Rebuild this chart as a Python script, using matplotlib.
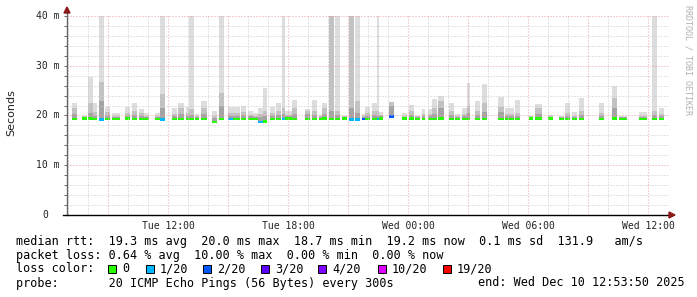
import numpy as np
import matplotlib
matplotlib.use('Agg')
import matplotlib.pyplot as plt
from matplotlib.patches import Rectangle, Polygon

# smoke blocks: start (hours since Tue 00:00), length (min), median / smoke levels (ms), loss index
seg_start = [7.20, 7.70, 8.00, 8.25, 8.55, 8.85, 9.20, 9.85, 10.20, 10.55, 10.80, 11.35, 11.60,
             12.20, 12.50, 12.90, 13.05, 13.35, 13.65, 14.20, 14.55, 15.00, 15.25, 15.65, 16.00,
             16.25, 16.50, 16.75, 17.10, 17.40, 17.70, 17.85, 18.20, 18.85, 19.20, 19.55, 19.70,
             20.05, 20.35, 20.70, 21.05, 21.35, 21.70, 21.85, 22.20, 22.45, 22.55, 23.05, 23.70,
             24.05, 24.35, 24.70, 25.00, 25.20, 25.50, 26.05, 26.35, 26.70, 26.95, 27.35, 27.70,
             28.50, 28.85, 29.35, 30.05, 30.35, 31.00, 31.55, 31.85, 32.20, 32.55, 33.55, 34.20,
             34.55, 35.55, 36.20, 36.55]
seg_len = [15, 15, 15, 12, 15, 15, 24, 15, 15, 15, 15, 15, 15,
           15, 18, 9, 15, 12, 18, 15, 15, 15, 21, 15, 15,
           15, 15, 12, 15, 15, 9, 21, 15, 15, 15, 9, 15,
           15, 15, 15, 15, 15, 9, 15, 15, 6, 12, 15, 15,
           15, 15, 9, 12, 15, 18, 15, 15, 15, 9, 15, 15,
           18, 27, 15, 12, 21, 15, 15, 15, 15, 15, 15, 15,
           24, 24, 15, 15]
seg_med = [19.3, 19.4, 19.4, 19.3, 19.2, 19.3, 19.3, 19.4, 19.3, 19.3, 19.3, 19.3, 19.2,
           19.3, 19.3, 19.3, 19.3, 19.3, 19.3, 18.7, 19.3, 19.3, 19.3, 19.3, 19.3,
           19.3, 18.7, 18.8, 19.3, 19.3, 19.3, 19.4, 19.3, 19.3, 19.3, 19.3, 19.4,
           19.3, 19.3, 19.4, 19.2, 19.2, 19.3, 19.3, 19.3, 19.3, 19.4, 19.8, 19.4,
           19.4, 19.3, 19.3, 19.3, 19.3, 19.4, 19.3, 19.3, 19.3, 19.3, 19.3, 19.3,
           19.3, 19.3, 19.3, 19.4, 19.4, 19.4, 19.3, 19.3, 19.3, 19.3, 19.3, 19.4,
           19.3, 19.3, 19.3, 19.3]
seg_max = [22.6, 19.9, 27.7, 22.6, 40.0, 21.8, 20.6, 21.8, 22.6, 21.3, 20.6, 20.5, 40.0,
           21.5, 22.6, 21.7, 40.0, 20.4, 22.9, 21.0, 40.0, 21.8, 21.8, 21.9, 20.9,
           20.5, 21.5, 25.6, 21.7, 22.5, 40.0, 20.9, 23.1, 21.3, 23.1, 20.1, 22.5,
           40.0, 40.0, 19.8, 40.0, 40.0, 20.3, 21.8, 22.5, 40.0, 20.7, 22.7, 20.5,
           22.2, 20.0, 21.3, 21.3, 23.3, 24.0, 22.5, 20.3, 21.5, 26.5, 23.0, 26.3,
           23.8, 21.6, 23.2, 20.0, 22.3, 20.2, 19.8, 22.6, 20.7, 23.5, 22.5, 26.0,
           19.8, 20.7, 40.0, 21.6]
seg_hi = [21.5, 19.9, 22.5, 20.8, 26.8, 20.8, 20.0, 20.5, 21.0, 20.5, 20.0, 19.9, 24.3,
          20.4, 21.5, 20.5, 21.3, 19.9, 21.5, 20.0, 24.5, 20.5, 20.6, 20.8, 20.2,
          19.9, 20.3, 21.0, 20.6, 21.0, 21.5, 20.2, 21.5, 21.0, 21.0, 19.9, 21.6,
          40.0, 21.0, 19.8, 40.0, 23.0, 20.0, 20.5, 21.0, 21.0, 20.2, 22.7, 20.0,
          21.0, 19.8, 20.4, 20.4, 21.5, 23.0, 21.0, 19.9, 20.4, 22.0, 21.0, 22.5,
          21.7, 20.4, 20.5, 19.8, 21.6, 19.9, 19.7, 20.5, 20.0, 21.0, 20.5, 23.5,
          19.7, 20.0, 21.0, 20.4]
seg_dark = [20.3, 19.7, 20.5, 20.0, 23.0, 20.0, 19.7, 20.0, 20.2, 19.9, 19.7, 19.7, 21.5,
            19.9, 20.3, 20.0, 20.2, 19.7, 20.3, 19.4, 22.0, 20.0, 20.0, 20.1, 19.8,
            19.7, 19.6, 19.8, 20.0, 20.2, 20.3, 19.8, 20.3, 20.3, 20.2, 19.7, 20.4,
            21.0, 20.2, 19.6, 21.5, 20.5, 19.7, 20.0, 20.2, 20.0, 19.8, 22.0, 19.7,
            20.2, 19.6, 19.9, 19.9, 20.3, 21.5, 20.2, 19.7, 19.9, 20.5, 20.2, 20.8,
            20.8, 19.9, 20.0, 19.6, 20.3, 19.7, 19.6, 20.0, 19.7, 20.2, 20.0, 21.5,
            19.6, 19.7, 20.2, 19.9]
seg_loss = [0, 0, 0, 0, 1, 0, 0, 0, 0, 0, 0, 0, 1,
            0, 0, 0, 0, 0, 0, 0, 0, 1, 0, 0, 0,
            0, 1, 0, 0, 0, 1, 0, 0, 0, 0, 0, 0,
            0, 0, 0, 1, 1, 2, 0, 0, 1, 0, 2, 0,
            0, 0, 0, 0, 0, 0, 0, 0, 0, 0, 0, 0,
            0, 0, 0, 0, 0, 0, 0, 0, 0, 0, 0, 0,
            0, 0, 0, 0]

loss_labels = ['0', '1/20', '2/20', '3/20', '4/20', '10/20', '19/20']
loss_colors = ['#26ff00', '#00b8ff', '#0059ff', '#5e00ff', '#7e00ff', '#dd00ff', '#ff0000']

y_ticks = [0, 10, 20, 30, 40]
y_labels = ['0', '10 m', '20 m', '30 m', '40 m']
x_ticks = [12, 18, 24, 30, 36]
x_labels = ['Tue 12:00', 'Tue 18:00', 'Wed 00:00', 'Wed 06:00', 'Wed 12:00']

rows = ['median rtt:  19.3 ms avg  20.0 ms max  18.7 ms min  19.2 ms now  0.1 ms sd  131.9   am/s',
        'packet loss: 0.64 % avg  10.00 % max  0.00 % min  0.00 % now']
probe = 'probe:       20 ICMP Echo Pings (56 Bytes) every 300s'
end_txt = 'end: Wed Dec 10 12:53:50 2025'

W, H = 697, 297
MONO = 'DejaVu Sans Mono'

def fx(px):
    return px / W

def fy(py):
    return 1 - py / H

fig = plt.figure(figsize=(W / 100, H / 100), dpi=100)
fig.patch.set_facecolor('white')
ax = fig.add_axes([fx(67), fy(215), 601 / W, 199 / H])
ax.set_xlim(6.95, 37.0)
ax.set_ylim(0, 40)
for s in ax.spines.values():
    s.set_visible(False)

start = np.array(seg_start)
width = np.array(seg_len) / 60
med = np.array(seg_med)
bottom = med - 0.3
ax.bar(start, np.array(seg_max) - bottom, width, bottom, align='edge',
       color='#dddddd', linewidth=0, antialiased=False, zorder=2)
ax.bar(start, np.array(seg_hi) - bottom, width, bottom, align='edge',
       color='#c2c2c2', linewidth=0, antialiased=False, zorder=2)
ax.bar(start, np.array(seg_dark) - bottom, width, bottom, align='edge',
       color='#a4a4a4', linewidth=0, antialiased=False, zorder=2)
ax.bar(start, 0.55, width, med - 0.27, align='edge',
       color=[loss_colors[i] for i in seg_loss], linewidth=0, antialiased=False, zorder=3)

# grid (rrdtool draws it over the graph)
dots = (0, (1, 2))
for h in range(7, 37):
    major = h % 3 == 0
    ax.axvline(h, color='#eba0a0' if major else '#c8c8c8', lw=0.72, ls=dots, zorder=4)
for v in range(2, 41, 2):
    major = v % 10 == 0
    ax.axhline(v, color='#eba0a0' if major else '#c8c8c8', lw=0.72, ls=dots, zorder=4,
               clip_on=False)

# axes lines and arrows
ax.plot([0, 0], [0, 1 + 5 / 199], transform=ax.transAxes, color='#666666', lw=1,
        clip_on=False, zorder=5)
ax.plot([-4 / 601, 1 + 2 / 601], [0, 0], transform=ax.transAxes, color='black', lw=1,
        clip_on=False, zorder=5)
ax.add_patch(Polygon([[-3 / 601, 1 + 3 / 199], [3 / 601, 1 + 3 / 199], [0, 1 + 9 / 199]],
                     closed=True, transform=ax.transAxes, color='#8b1a1a', clip_on=False, zorder=6))
ax.add_patch(Polygon([[1 + 1 / 601, -3 / 199], [1 + 1 / 601, 3 / 199], [1 + 7 / 601, 0]],
                     closed=True, transform=ax.transAxes, color='#8b1a1a', clip_on=False, zorder=6))

ax.set_yticks(range(0, 41, 2))
ax.set_yticklabels([])
ax.tick_params(axis='y', length=2, width=0.7, color='#666666', direction='out')
ax.set_xticks(x_ticks)
ax.set_xticklabels(x_labels, fontfamily=MONO, fontsize=7, color='#222222')
ax.tick_params(axis='x', length=0, pad=4)

cw = 7 * 100 / 72 * 0.602
for v, lab in zip(y_ticks, y_labels):
    left = 36.5 + cw if lab == '0' else 36.5
    fig.text(fx(left), fy(215 - v * 199 / 40), lab, fontfamily=MONO, fontsize=7,
             color='#222222', ha='left', va='center')

fig.text(fx(11), fy(113), 'Seconds', rotation=90, fontfamily='DejaVu Sans', fontsize=8,
         ha='center', va='center', color='#222222')
fig.text(fx(688), fy(60), 'RRDTOOL / TOBI OETIKER', rotation=270, fontfamily=MONO,
         fontsize=6, ha='center', va='center', color='#b0b0b0')

# legend rows
fig.text(fx(16), fy(241), rows[0], fontfamily=MONO, fontsize=8.5, ha='left', va='center')
fig.text(fx(16), fy(255), rows[1], fontfamily=MONO, fontsize=8.5, ha='left', va='center')
fig.text(fx(16), fy(269), 'loss color:', fontfamily=MONO, fontsize=8.5, ha='left', va='center')
box_x = [108, 146, 203, 261, 318, 378, 443]
for bx, lab, col in zip(box_x, loss_labels, loss_colors):
    fig.patches.append(Rectangle((fx(bx), fy(273)), 8 / W, 8 / H, transform=fig.transFigure,
                                 facecolor=col, edgecolor='black', lw=0.7))
    fig.text(fx(bx + 14), fy(269), lab, fontfamily=MONO, fontsize=8.5, ha='left', va='center')
fig.text(fx(16), fy(283), probe, fontfamily=MONO, fontsize=8.5, ha='left', va='center')
fig.text(fx(478), fy(283), end_txt, fontfamily=MONO, fontsize=8.5, ha='left', va='center')

fig.savefig('out.png', dpi=100)
